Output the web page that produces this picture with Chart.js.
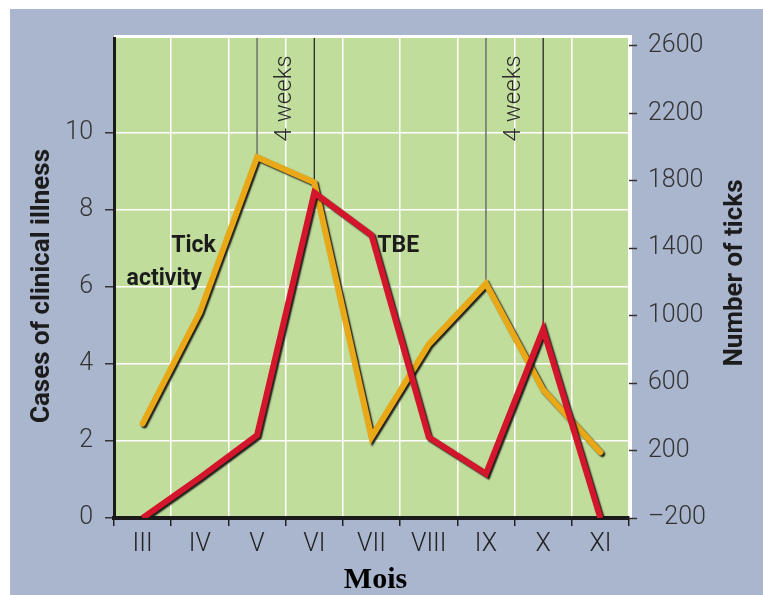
<!DOCTYPE html>
<html>
<head>
<meta charset="utf-8">
<script src="https://cdn.jsdelivr.net/npm/chart.js@4.4.1/dist/chart.umd.min.js"></script>
<style>
  html, body { margin: 0; padding: 0; background: #fff; }
  #wrap { position: relative; width: 763px; height: 595px; }
  canvas { display: block; }
</style>
</head>
<body>
<div id="wrap"><canvas id="chart" width="763" height="595"></canvas></div>
<script>
const MONTHS = ["III", "IV", "V", "VI", "VII", "VIII", "IX", "X", "XI"];
const TICK_ACTIVITY = [360, 1020, 1940, 1790, 280, 830, 1190, 560, 190];
const TBE_CASES = [0, 1.05, 2.15, 8.45, 7.35, 2.1, 1.15, 4.9, 0];
const CASE_TICKS = [0, 2, 4, 6, 8, 10];
const TICK_TICKS = [-200, 200, 600, 1000, 1400, 1800, 2200, 2600];
const CASE_MAX = 12.47;
const TICK_MIN = -200;
const TICK_MAX = 2647;

// tick peak -> TBE peak, about a month apart
const LAGS = [
  { from: 2, to: 3 },
  { from: 6, to: 7 },
];

const BG = "#a9b6ce";
const PLOT_BG = "#c1dd9b";
const ORANGE = "#e8a817";
const RED = "#d3162b";
const SANS = "Roboto, 'Liberation Sans', sans-serif";

function drawText(ctx, text, x, y, font, color, align, rot) {
  ctx.save();
  ctx.translate(x, y);
  if (rot) ctx.rotate(rot);
  ctx.font = font;
  ctx.fillStyle = color;
  ctx.textAlign = align || "center";
  ctx.textBaseline = "middle";
  ctx.fillText(text, 0, 0);
  ctx.restore();
}

const decor = {
  id: "decor",
  beforeDraw(c) {
    const { ctx, chartArea: a } = c;
    ctx.save();
    ctx.fillStyle = "#fff";
    ctx.fillRect(0, 0, c.width, c.height);
    ctx.fillStyle = BG;
    ctx.fillRect(10, 9, c.width - 10, c.height - 9);
    ctx.fillStyle = PLOT_BG;
    ctx.fillRect(a.left, a.top, a.right - a.left, a.bottom - a.top);
    ctx.strokeStyle = "#fff";
    ctx.lineWidth = 3;
    ctx.beginPath();
    ctx.moveTo(a.left, a.top - 1.5);
    ctx.lineTo(a.right + 1.5, a.top - 1.5);
    ctx.lineTo(a.right + 1.5, a.bottom);
    ctx.stroke();
    ctx.restore();
  },
  beforeDatasetsDraw(c) {
    const { ctx, chartArea: a } = c;
    const x = c.scales.x, y = c.scales.y, y1 = c.scales.y1;
    ctx.save();
    LAGS.forEach((lag) => {
      const x0 = x.getPixelForValue(lag.from);
      const x1 = x.getPixelForValue(lag.to);
      ctx.lineWidth = 1.5;
      ctx.strokeStyle = "#6f6f6f";
      ctx.beginPath();
      ctx.moveTo(x0, a.top);
      ctx.lineTo(x0, y1.getPixelForValue(TICK_ACTIVITY[lag.from]));
      ctx.stroke();
      ctx.lineWidth = 1.2;
      ctx.strokeStyle = "#1a1a1a";
      ctx.beginPath();
      ctx.moveTo(x1, a.top);
      ctx.lineTo(x1, y.getPixelForValue(TBE_CASES[lag.to]));
      ctx.stroke();
      drawText(ctx, "4 weeks", (x0 + x1) / 2 - 1, y.getPixelForValue(10.9),
        "300 24px " + SANS, "#2a2a2a", "center", -Math.PI / 2);
    });
    ctx.restore();
  },
  beforeDatasetDraw(c) {
    const ctx = c.ctx;
    ctx.save();
    ctx.shadowColor = "rgba(20, 20, 20, 0.95)";
    ctx.shadowBlur = 1.5;
    ctx.shadowOffsetX = 1.8;
    ctx.shadowOffsetY = 1.8;
  },
  afterDatasetDraw(c) {
    c.ctx.restore();
  },
  afterDraw(c) {
    const { ctx, chartArea: a } = c;
    const x = c.scales.x, y = c.scales.y;
    const bold = "bold 26px " + SANS;
    drawText(ctx, "Cases of clinical illness", 42, 286, bold, "#1c1c1c", "center", -Math.PI / 2);
    drawText(ctx, "Number of ticks", 735, 273, bold, "#1c1c1c", "center", -Math.PI / 2);
    drawText(ctx, "Mois", (a.left + a.right) / 2 + 4, 580,
      "bold 30px 'Liberation Serif', 'Times New Roman', serif", "#000", "center");
    const lbl = "bold 23px " + SANS;
    drawText(ctx, "Tick", x.getPixelForValue(0.5), y.getPixelForValue(7.05), lbl, "#1c1c1c", "left");
    drawText(ctx, "activity", x.getPixelForValue(-0.28), y.getPixelForValue(6.2), lbl, "#1c1c1c", "left");
    drawText(ctx, "TBE", x.getPixelForValue(4.1), y.getPixelForValue(7.05), lbl, "#1c1c1c", "left");
  },
};

function initChart() {
  Chart.defaults.font.family = SANS;
  Chart.defaults.color = "#333";

  const tickFont = { size: 25, weight: "300" };
  const ctx = document.getElementById("chart").getContext("2d");
  return new Chart(ctx, {
    type: "line",
    data: {
      labels: MONTHS,
      datasets: [
        {
          label: "Tick activity",
          data: TICK_ACTIVITY,
          yAxisID: "y1",
          borderColor: ORANGE,
          borderWidth: 6,
          borderJoinStyle: "miter",
          borderCapStyle: "round",
          pointRadius: 0,
          tension: 0,
          order: 2,
        },
        {
          label: "TBE",
          data: TBE_CASES,
          yAxisID: "y",
          borderColor: RED,
          borderWidth: 6,
          borderJoinStyle: "miter",
          borderCapStyle: "butt",
          pointRadius: 0,
          tension: 0,
          order: 1,
        },
      ],
    },
    options: {
      responsive: false,
      animation: false,
      events: [],
      layout: { padding: { top: 38, left: 0, right: 0, bottom: 0 } },
      plugins: {
        legend: { display: false },
        tooltip: { enabled: false },
      },
      scales: {
        x: {
          offset: true,
          grid: {
            offset: true,
            color: "#fff",
            lineWidth: 1.5,
            tickColor: "#222",
            tickLength: 8,
            tickWidth: 1.5,
          },
          border: { color: "#1a1a1a", width: 4 },
          ticks: { font: tickFont, color: "#222", padding: 4, maxRotation: 0 },
          afterFit: (s) => { s.height = 77; },
        },
        y: {
          position: "left",
          min: 0,
          max: CASE_MAX,
          afterBuildTicks: (s) => { s.ticks = CASE_TICKS.map((v) => ({ value: v })); },
          grid: {
            color: "#fff",
            lineWidth: 1.5,
            tickColor: "#333",
            tickLength: 9,
            tickWidth: 1.5,
          },
          border: { color: "#1a1a1a", width: 3 },
          ticks: { font: tickFont, color: "#333", padding: 12 },
          afterFit: (s) => { s.width = 114; },
        },
        y1: {
          position: "right",
          min: TICK_MIN,
          max: TICK_MAX,
          afterBuildTicks: (s) => { s.ticks = TICK_TICKS.map((v) => ({ value: v })); },
          grid: {
            drawOnChartArea: false,
            tickColor: "#333",
            tickLength: 8,
            tickWidth: 1.5,
          },
          border: { display: false },
          ticks: {
            font: tickFont,
            color: "#333",
            padding: 11,
            callback: (v) => (v < 0 ? "\u2013" + Math.abs(v) : String(v)),
          },
          afterFit: (s) => { s.width = 134; },
        },
      },
    },
    plugins: [decor],
  });
}

initChart();
</script>
</body>
</html>
